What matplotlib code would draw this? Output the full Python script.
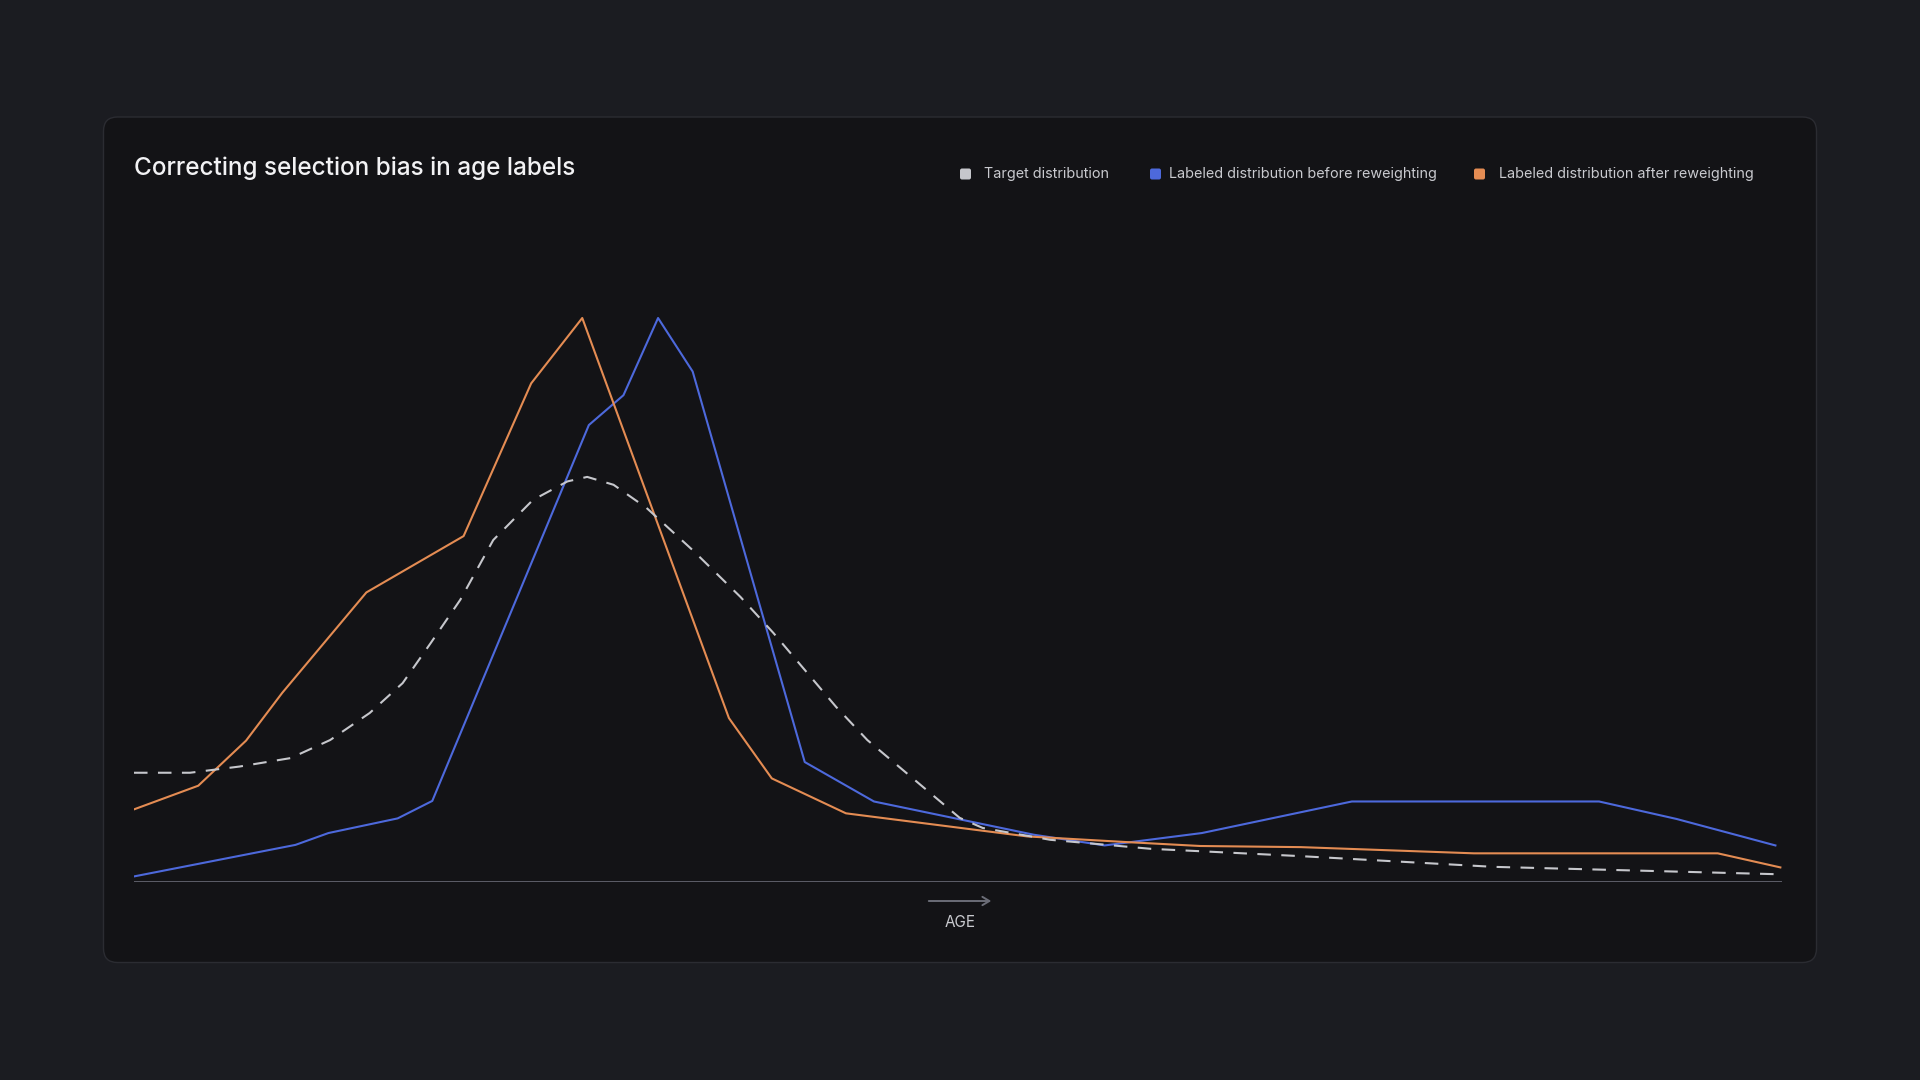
import numpy as np
import matplotlib.pyplot as plt
from matplotlib.patches import FancyBboxPatch

# age axis is drawn without ticks; positions are read as 0-100 across the plot width
target_age = [0, 3.4, 6.4, 9.5, 11.9, 14.3, 16.3, 18.0, 19.8, 21.8, 24.2, 26.3, 27.5,
              29.1, 31.1, 33.9, 36.8, 38.8, 42.6, 44.5, 50.1, 51.5, 55.6, 61.7, 70.8,
              82.5, 99.6]
target_val = [19.3, 19.3, 20.4, 21.9, 25.1, 29.9, 35.2, 42.3, 50.0, 60.6, 67.7, 71.0, 71.8,
              70.4, 66.3, 58.8, 50.5, 44.1, 31.0, 25.1, 11.3, 9.5, 7.4, 5.8, 4.5,
              2.6, 1.3]

before_age = [0, 9.8, 11.8, 16.0, 18.1, 27.6, 29.7, 31.8, 33.9, 40.7, 44.9, 54.6, 58.9,
              64.8, 73.9, 88.9, 93.6, 99.6]
before_val = [0.9, 6.5, 8.6, 11.2, 14.3, 81.0, 86.3, 100.0, 90.5, 21.2, 14.2, 8.3, 6.4,
              8.6, 14.2, 14.2, 11.1, 6.4]

after_age = [0, 3.9, 6.8, 9.0, 14.1, 20.0, 24.1, 27.2, 36.1, 38.7, 43.2, 54.2, 60.2,
             64.7, 70.8, 81.3, 96.1, 99.9]
after_val = [12.8, 17.0, 25.0, 33.5, 51.3, 61.3, 88.4, 100.0, 29.0, 18.3, 12.1, 8.0, 7.0,
             6.3, 6.1, 5.0, 5.0, 2.5]

title = "Correcting selection bias in age labels"
legend_labels = ["Target distribution",
                 "Labeled distribution before reweighting",
                 "Labeled distribution after reweighting"]
x_label = "AGE"

BG = "#1b1c21"
CARD = "#131316"
CARD_EDGE = "#2b2c32"
C_TARGET = "#c6c7cc"
C_BEFORE = "#4d69dc"
C_AFTER = "#e48c53"
AXIS = "#5c5e68"
FONT = ["Inter", "DejaVu Sans"]

W, H = 1920, 1080
fig = plt.figure(figsize=(19.2, 10.8), dpi=100)
fig.patch.set_facecolor(BG)

# overlay in pixel units for the card, legend and axis label
bg = fig.add_axes([0, 0, 1, 1])
bg.set_xlim(0, W)
bg.set_ylim(H, 0)
bg.axis("off")
bg.add_patch(FancyBboxPatch((103.5, 117), 1713, 845.5,
                            boxstyle="round,pad=0,rounding_size=14",
                            fc=CARD, ec=CARD_EDGE, lw=1.0))

bg.text(134, 168, title, color="#f2f2f4", fontsize=17.5, family=FONT,
        weight="medium", ha="left", va="center")

leg_box_x = [960, 1150, 1474]
leg_text_x = [984, 1169, 1499]
leg_colors = [C_TARGET, C_BEFORE, C_AFTER]
for bx, tx, lab, col in zip(leg_box_x, leg_text_x, legend_labels, leg_colors):
    bg.add_patch(FancyBboxPatch((bx, 168.5), 11, 11,
                                boxstyle="round,pad=0,rounding_size=2",
                                fc=col, ec="none"))
    bg.text(tx, 174, lab, color="#c9cacf", fontsize=10.35, family=FONT,
            ha="left", va="center")

bg.annotate("", xy=(994, 901), xytext=(926, 901),
            arrowprops=dict(arrowstyle="->,head_length=0.5,head_width=0.3",
                            color="#6b6d77", lw=1.4))
bg.text(960, 922.5, x_label, color="#c9cacf", fontsize=11, family=FONT,
        ha="center", va="center")

# main plot
left, right, bottom_px, top_px = 134, 1782, 881.5, 300
peak_px = 318
ax = fig.add_axes([left / W, (H - bottom_px) / H, (right - left) / W,
                   (bottom_px - top_px) / H])
ax.set_facecolor("none")
ax.set_xlim(0, 100)
ax.set_ylim(0, 100 * (bottom_px - top_px) / (bottom_px - peak_px))
for s in ax.spines.values():
    s.set_visible(False)
ax.set_xticks([])
ax.set_yticks([])
ax.axhline(0, color=AXIS, lw=1.4, zorder=1)

ax.plot(target_age, target_val, color=C_TARGET, lw=1.5, dashes=(6.5, 5), zorder=3)
ax.plot(before_age, before_val, color=C_BEFORE, lw=1.5, zorder=2)
ax.plot(after_age, after_val, color=C_AFTER, lw=1.5, zorder=2)

fig.savefig("out.png", dpi=100, facecolor=BG)
